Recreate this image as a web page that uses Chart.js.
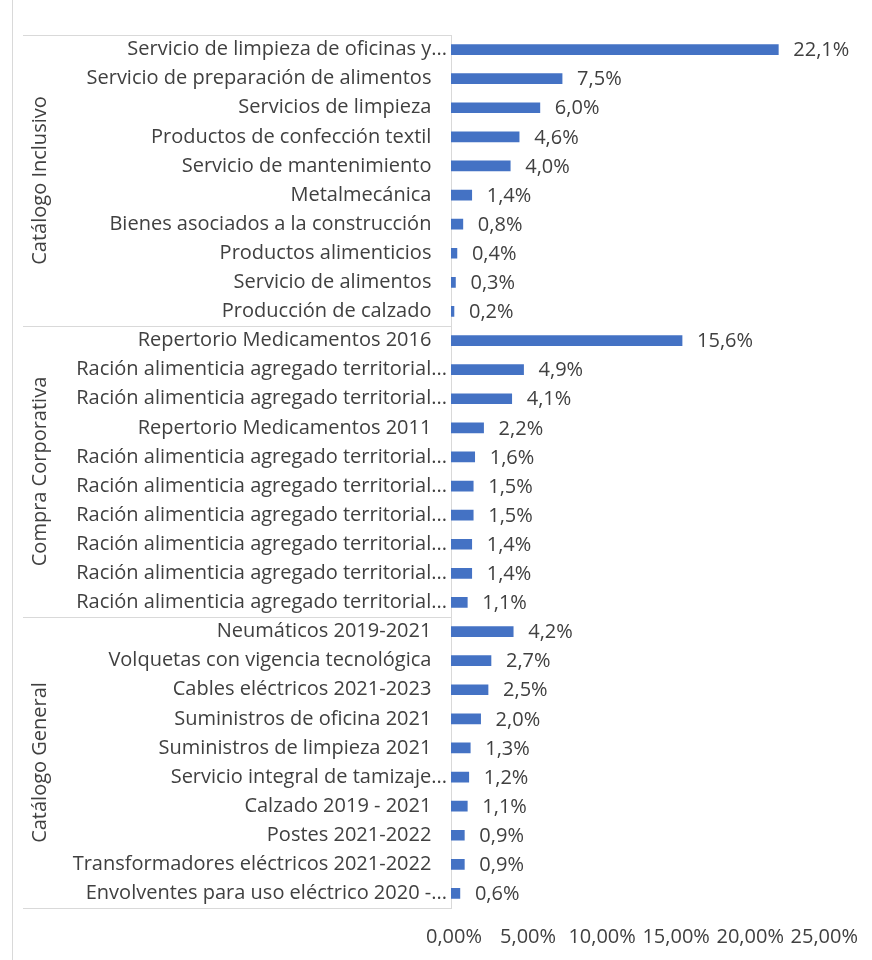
<!DOCTYPE html>
<html>
<head>
<meta charset="utf-8">
<script src="https://cdn.jsdelivr.net/npm/chart.js@4"></script>
<style>
  html, body { margin: 0; padding: 0; background: #ffffff; }
  #wrap { position: relative; width: 872px; height: 960px; }
</style>
</head>
<body>
<div id="wrap"><canvas id="c" width="872" height="960"></canvas></div>
<script>
const categories = [
  "Servicio de limpieza de oficinas y...",
  "Servicio de preparación de alimentos",
  "Servicios de limpieza",
  "Productos de confección textil",
  "Servicio de mantenimiento",
  "Metalmecánica",
  "Bienes asociados a la construcción",
  "Productos alimenticios",
  "Servicio de alimentos",
  "Producción de calzado",
  "Repertorio Medicamentos 2016",
  "Ración alimenticia agregado territorial...",
  "Ración alimenticia agregado territorial...",
  "Repertorio Medicamentos 2011",
  "Ración alimenticia agregado territorial...",
  "Ración alimenticia agregado territorial...",
  "Ración alimenticia agregado territorial...",
  "Ración alimenticia agregado territorial...",
  "Ración alimenticia agregado territorial...",
  "Ración alimenticia agregado territorial...",
  "Neumáticos 2019-2021",
  "Volquetas con vigencia tecnológica",
  "Cables eléctricos 2021-2023",
  "Suministros de oficina 2021",
  "Suministros de limpieza 2021",
  "Servicio integral de tamizaje...",
  "Calzado 2019 - 2021",
  "Postes 2021-2022",
  "Transformadores eléctricos 2021-2022",
  "Envolventes para uso eléctrico 2020 -..."
];
const values = [
  22.1, 7.5, 6.0, 4.6, 4.0, 1.4, 0.8, 0.4, 0.3, 0.2,
  15.6, 4.9, 4.1, 2.2, 1.6, 1.5, 1.5, 1.4, 1.4, 1.1,
  4.2, 2.7, 2.5, 2.0, 1.3, 1.2, 1.1, 0.9, 0.9, 0.6
];
const groupNames = ["Catálogo Inclusivo", "Compra Corporativa", "Catálogo General"];
const groupSizes = [10, 10, 10];
const xTicks = [0, 5, 10, 15, 20, 25];

const FONT = "'Open Sans'";
const FSIZE = 20;
const TXT = "#404040";
const LINE = "#d9d9d9";

function fmtPct(v, d) { return v.toFixed(d).replace(".", ",") + "%"; }

const decor = {
  id: "decor",
  beforeDraw(chart) {
    const ctx = chart.ctx;
    ctx.save();
    ctx.fillStyle = "#ffffff";
    ctx.fillRect(0, 0, chart.width, chart.height);
    ctx.strokeStyle = LINE;
    ctx.lineWidth = 1;
    ctx.beginPath();
    ctx.moveTo(12.5, 0);
    ctx.lineTo(12.5, chart.height);
    ctx.stroke();
    ctx.restore();
  },
  afterDraw(chart) {
    const ctx = chart.ctx;
    const y = chart.scales.y;
    const area = chart.chartArea;
    ctx.save();
    ctx.strokeStyle = LINE;
    ctx.lineWidth = 1;
    const bounds = [area.top];
    let idx = 0;
    groupSizes.forEach(n => {
      idx += n;
      if (idx >= categories.length) bounds.push(area.bottom);
      else bounds.push((y.getPixelForTick(idx - 1) + y.getPixelForTick(idx)) / 2);
    });
    bounds.forEach(b => {
      const yy = Math.round(b) + 0.5;
      ctx.beginPath();
      ctx.moveTo(23, yy);
      ctx.lineTo(area.left, yy);
      ctx.stroke();
    });
    ctx.fillStyle = TXT;
    ctx.font = FSIZE + "px " + FONT;
    ctx.textAlign = "center";
    ctx.textBaseline = "middle";
    groupNames.forEach((g, i) => {
      const cy = (bounds[i] + bounds[i + 1]) / 2;
      ctx.save();
      ctx.translate(40, cy);
      ctx.rotate(-Math.PI / 2);
      ctx.fillText(g, 0, 0);
      ctx.restore();
    });
    const meta = chart.getDatasetMeta(0);
    ctx.textAlign = "left";
    meta.data.forEach((bar, i) => {
      ctx.fillText(fmtPct(values[i], 1), bar.x + 15, bar.y + 1);
    });
    ctx.restore();
  }
};

new Chart(document.getElementById("c"), {
  type: "bar",
  data: {
    labels: categories,
    datasets: [{
      data: values,
      backgroundColor: "#4472C4",
      borderWidth: 0,
      barThickness: 10
    }]
  },
  options: {
    indexAxis: "y",
    responsive: false,
    animation: false,
    devicePixelRatio: 1,
    layout: { padding: { top: 35, right: 49, bottom: 0, left: 0 } },
    plugins: { legend: { display: false }, tooltip: { enabled: false } },
    scales: {
      y: {
        type: "category",
        afterFit(scale) { scale.width = 451; },
        grid: { display: false, drawTicks: false },
        border: { display: true, color: LINE, width: 1 },
        ticks: {
          autoSkip: false,
          padding: 4,
          color: TXT,
          font: { family: FONT, size: FSIZE },
          callback(val, i) {
            const l = categories[i];
            return l.endsWith("...") ? l : l + "   ";
          }
        }
      },
      x: {
        type: "linear",
        min: 0,
        max: 25,
        afterFit(scale) { scale.height = 52; },
        afterBuildTicks(scale) { scale.ticks = xTicks.map(v => ({ value: v })); },
        grid: { display: false, drawTicks: false },
        border: { display: false },
        ticks: {
          padding: 17,
          labelOffset: 3,
          autoSkip: false,
          maxRotation: 0,
          color: TXT,
          font: { family: FONT, size: FSIZE },
          callback(v) { return fmtPct(v, 2); }
        }
      }
    }
  },
  plugins: [decor]
});
</script>
</body>
</html>
